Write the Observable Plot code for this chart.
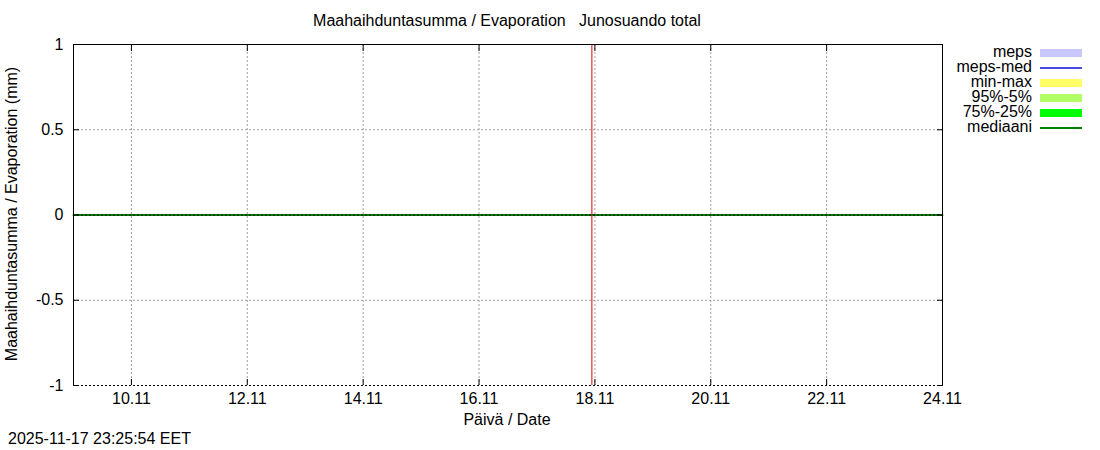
<!DOCTYPE html>
<html><head><meta charset="utf-8">
<script src="https://cdn.jsdelivr.net/npm/d3@7"></script>
<script src="https://cdn.jsdelivr.net/npm/@observablehq/plot@0.6"></script>
<style>
body{margin:0;background:#fff;font-family:"Liberation Sans",Arial,sans-serif;}
#wrap{position:relative;width:1100px;height:450px;overflow:hidden;}
#wrap svg{position:absolute;left:0;top:0;}
.t{position:absolute;white-space:pre;font-size:16px;color:#000;line-height:1;}
#legend{position:absolute;left:940px;top:45px;}
.row{display:flex;align-items:center;height:15px;}
.row .lab{width:92px;text-align:right;font-size:16px;line-height:15px;white-space:pre;position:relative;top:-1px;}
.row .sw{margin-left:8px;width:42px;display:flex;align-items:center;height:15px;}
</style></head><body><div id="wrap"></div>
<script>
// ---- data ----
const dayStrings = ["2025-11-09","2025-11-10","2025-11-11","2025-11-12","2025-11-13","2025-11-14","2025-11-15","2025-11-16",
                    "2025-11-17","2025-11-18","2025-11-19","2025-11-20","2025-11-21","2025-11-22","2025-11-23","2025-11-24"];
const medianValues = [0,0,0,0,0,0,0,0,0,0,0,0,0,0,0,0];
const tickDays = ["2025-11-10","2025-11-12","2025-11-14","2025-11-16","2025-11-18","2025-11-20","2025-11-22","2025-11-24"];
const tickLabels = ["10.11","12.11","14.11","16.11","18.11","20.11","22.11","24.11"];
const yTicks = [-1,-0.5,0,0.5,1];
const yTickLabels = ["-1","-0.5","0","0.5","1"];
const nowStamp = "2025-11-17T22:45:00";
const titleText = "Maahaihduntasumma / Evaporation   Junosuando total";
const xLabel = "Päivä / Date";
const yLabel = "Maahaihduntasumma / Evaporation (mm)";
const stampText = "2025-11-17 23:25:54 EET";
const legendLabels = ["meps","meps-med","min-max","95%-5%","75%-25%","mediaani"];
const legendColors = ["#c8c8ff","#4b4bdc","#ffff66","#b3ff66","#00ff00","#008000"];
const legendKinds = ["band","line","band","band","band","line"];

// ---- build ----
const pDay = d3.utcParse("%Y-%m-%d");
const pTime = d3.utcParse("%Y-%m-%dT%H:%M:%S");
const medianData = dayStrings.map((d,i)=>({date:pDay(d), value:medianValues[i]}));
const tickDates = tickDays.map(pDay);
const xLabMap = new Map(tickDates.map((d,i)=>[+d, tickLabels[i]]));
const yLabMap = new Map(yTicks.map((v,i)=>[v, yTickLabels[i]]));
const x0 = medianData[0].date, x1 = medianData[medianData.length-1].date;
const nowDate = pTime(nowStamp);
const grid = {stroke:"#a0a0a0", strokeOpacity:1, strokeDasharray:"2,2"};
const blank = () => "";

const chart = Plot.plot({
  width:1100, height:450,
  marginLeft:73, marginRight:158, marginTop:44, marginBottom:65,
  style:{fontFamily:"'Liberation Sans', Arial, sans-serif", fontSize:"16px", color:"#000", background:"#fff"},
  x:{type:"utc", domain:[x0,x1]},
  y:{domain:[-1,1]},
  marks:[
    Plot.ruleX(tickDates, grid),
    Plot.ruleY([0.5,-0.5], grid),
    Plot.lineY(medianData, {x:"date", y:"value", stroke:"#008000", strokeWidth:2}),
    Plot.ruleY([0], {stroke:"#000", strokeDasharray:"2,2"}),
    Plot.ruleX([nowDate], {stroke:"#e00000"}),
    Plot.ruleY([1], {stroke:"#000"}),
    Plot.ruleX([x0,x1], {stroke:"#000"}),
    Plot.ruleY([-1], {stroke:"#000", strokeDasharray:"2,2"}),
    Plot.axisX(tickDates, {anchor:"bottom", tickSize:0, tickPadding:7, tickFormat:d=>xLabMap.get(+d), label:null, fontSize:16}),
    Plot.axisX(tickDates, {anchor:"bottom", tickSize:6, dy:-6, tickFormat:blank, label:null}),
    Plot.axisX(tickDates, {anchor:"top", tickSize:6, dy:6, tickFormat:blank, label:null}),
    Plot.axisY(yTicks, {anchor:"left", tickSize:0, tickPadding:10, tickFormat:d=>yLabMap.get(d), label:null, fontSize:16}),
    Plot.axisY(yTicks, {anchor:"left", tickSize:6, dx:6, tickFormat:blank, label:null}),
    Plot.axisY(yTicks, {anchor:"right", tickSize:6, dx:-6, tickFormat:blank, label:null})
  ]
});
const wrap = document.getElementById("wrap");
wrap.appendChild(chart);

function addText(txt, css){
  const d = document.createElement("div");
  d.className = "t"; d.textContent = txt;
  Object.assign(d.style, css);
  wrap.appendChild(d);
  return d;
}
addText(titleText, {left:"507px", top:"13px", transform:"translateX(-50%)"});
addText(xLabel, {left:"507px", top:"412px", transform:"translateX(-50%)"});
addText(stampText, {left:"8px", top:"431px"});
addText(yLabel, {left:"12px", top:"214px", transform:"translate(-50%,-50%) rotate(-90deg)"});

const leg = document.createElement("div");
leg.id = "legend";
legendLabels.forEach((lab,i)=>{
  const r = document.createElement("div"); r.className="row";
  const l = document.createElement("span"); l.className="lab"; l.textContent = lab;
  const s = document.createElement("span"); s.className="sw";
  const b = document.createElement("span");
  b.style.display="block"; b.style.width="42px"; b.style.background=legendColors[i];
  b.style.height = legendKinds[i]==="band" ? "8px" : "2px";
  s.appendChild(b); r.appendChild(l); r.appendChild(s); leg.appendChild(r);
});
wrap.appendChild(leg);
</script></body></html>
